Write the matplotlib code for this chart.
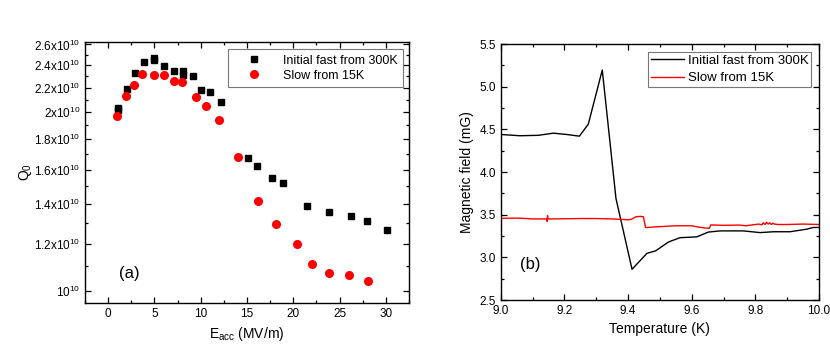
import numpy as np
import matplotlib
matplotlib.use('Agg')
import matplotlib.pyplot as plt
from matplotlib.ticker import FixedLocator, MultipleLocator, NullFormatter

plt.rcParams['font.family'] = ['Liberation Sans', 'DejaVu Sans']
plt.rcParams['mathtext.fontset'] = 'custom'
plt.rcParams['mathtext.rm'] = 'Liberation Sans'
plt.rcParams['mathtext.it'] = 'Liberation Sans'

# (a) Q0 vs Eacc
e_fast = [1.1, 1.1, 2.0, 2.9, 3.9, 5.0, 5.0, 6.0, 7.1, 8.1, 8.1, 9.2, 10.0, 11.0, 12.2,
          15.1, 16.1, 17.7, 18.9, 21.5, 23.9, 26.2, 28.0, 30.1]
q_fast = [2.03, 2.015, 2.19, 2.33, 2.43, 2.465, 2.45, 2.39, 2.35, 2.35, 2.31, 2.30, 2.18, 2.16, 2.08,
          1.677, 1.62, 1.55, 1.52, 1.387, 1.357, 1.337, 1.31, 1.267]
e_slow = [1.0, 1.9, 2.8, 3.7, 5.0, 6.0, 7.1, 8.0, 9.5, 10.6, 12.0,
          14.0, 16.2, 18.1, 20.4, 22.0, 23.9, 26.0, 28.1]
q_slow = [1.97, 2.13, 2.22, 2.32, 2.31, 2.31, 2.257, 2.25, 2.12, 2.05, 1.94,
          1.68, 1.416, 1.297, 1.197, 1.11, 1.071, 1.065, 1.038]
q_ticks = [1.0, 1.2, 1.4, 1.6, 1.8, 2.0, 2.2, 2.4, 2.6]
q_labels = [r'10$^{10}$', r'1.2x10$^{10}$', r'1.4x10$^{10}$', r'1.6x10$^{10}$', r'1.8x10$^{10}$',
            r'2x10$^{10}$', r'2.2x10$^{10}$', r'2.4x10$^{10}$', r'2.6x10$^{10}$']

# (b) magnetic field vs temperature
t_fast = [9.0, 9.06, 9.118, 9.165, 9.207, 9.247, 9.275, 9.319, 9.362, 9.4125, 9.459, 9.487,
          9.527, 9.563, 9.616, 9.652, 9.689, 9.762, 9.815, 9.857, 9.909, 9.961, 9.982, 10.0]
b_fast = [4.44, 4.425, 4.43, 4.455, 4.44, 4.42, 4.56, 5.195, 3.69, 2.86, 3.046, 3.077,
          3.18, 3.23, 3.24, 3.296, 3.31, 3.31, 3.29, 3.30, 3.30, 3.33, 3.35, 3.35]
t_slow = [9.0, 9.05, 9.08, 9.1, 9.145, 9.146, 9.147, 9.148, 9.2, 9.25, 9.3, 9.35, 9.4, 9.41,
          9.425, 9.44, 9.448, 9.455, 9.46, 9.5, 9.55, 9.6, 9.62, 9.64, 9.655, 9.66, 9.7,
          9.75, 9.77, 9.79, 9.81, 9.82, 9.825, 9.83, 9.835, 9.84, 9.845, 9.85, 9.855, 9.86,
          9.87, 9.9, 9.95, 10.0]
b_slow = [3.457, 3.46, 3.455, 3.45, 3.45, 3.42, 3.49, 3.45, 3.452, 3.455, 3.455, 3.45, 3.44, 3.445,
          3.476, 3.48, 3.475, 3.35, 3.35, 3.36, 3.37, 3.37, 3.355, 3.345, 3.34, 3.38, 3.375,
          3.378, 3.37, 3.38, 3.39, 3.38, 3.405, 3.385, 3.41, 3.39, 3.405, 3.385, 3.40, 3.39,
          3.385, 3.385, 3.39, 3.385]

fig = plt.figure(figsize=(8.3, 3.64), dpi=100)
ax1 = fig.add_axes([0.1024, 0.1676, 0.3904, 0.717])
ax2 = fig.add_axes([0.6033, 0.1758, 0.3835, 0.7033])

for ax in (ax1, ax2):
    for s in ax.spines.values():
        s.set_linewidth(1.0)
    ax.tick_params(which='both', direction='in', top=True, right=True, labelsize=8.5)
    ax.tick_params(which='major', length=4, width=0.9)
    ax.tick_params(which='minor', length=2, width=0.9)

# panel (a)
ax1.set_yscale('log')
ax1.plot(e_fast, np.array(q_fast) * 1e10, 's', color='black', ms=5, label='Initial fast from 300K')
ax1.plot(e_slow, np.array(q_slow) * 1e10, 'o', color='red', ms=5.5, mec='red', label='Slow from 15K')
ax1.set_xlim(-2.5, 32.5)
ax1.set_ylim(0.954e10, 2.625e10)
ax1.yaxis.set_major_locator(FixedLocator([v * 1e10 for v in q_ticks]))
ax1.yaxis.set_minor_locator(FixedLocator([v * 1e10 for v in np.arange(1.1, 2.6, 0.2)]))
ax1.set_yticklabels(q_labels)
ax1.yaxis.set_minor_formatter(NullFormatter())
ax1.xaxis.set_major_locator(MultipleLocator(5))
ax1.xaxis.set_minor_locator(MultipleLocator(2.5))
ax1.set_xlabel(r'E$_{\mathrm{acc}}$ (MV/m)', fontsize=10)
ax1.set_ylabel(r'Q$_0$', fontsize=10, labelpad=0)
ax1.text(0.105, 0.095, '(a)', transform=ax1.transAxes, fontsize=12)
leg1 = ax1.legend(loc='upper right', bbox_to_anchor=(0.981, 0.973), borderaxespad=0,
                  fontsize=9, fancybox=False, edgecolor='#555555', handletextpad=0.6,
                  borderpad=0.45, labelspacing=0.25, handlelength=3.3)
leg1.get_frame().set_linewidth(0.8)

# panel (b)
ax2.plot(t_fast, b_fast, '-', color='black', lw=1.0, label='Initial fast from 300K')
ax2.plot(t_slow, b_slow, '-', color='red', lw=1.0, label='Slow from 15K')
ax2.set_xlim(9.0, 10.0)
ax2.set_ylim(2.5, 5.5)
ax2.xaxis.set_major_locator(MultipleLocator(0.2))
ax2.xaxis.set_minor_locator(MultipleLocator(0.1))
ax2.yaxis.set_major_locator(MultipleLocator(0.5))
ax2.yaxis.set_minor_locator(MultipleLocator(0.25))
ax2.xaxis.set_major_formatter(plt.FormatStrFormatter('%.1f'))
ax2.yaxis.set_major_formatter(plt.FormatStrFormatter('%.1f'))
ax2.set_xlabel('Temperature (K)', fontsize=10)
ax2.set_ylabel('Magnetic field (mG)', fontsize=10)
ax2.text(0.06, 0.12, '(b)', transform=ax2.transAxes, fontsize=12)
leg2 = ax2.legend(loc='upper right', bbox_to_anchor=(0.975, 0.969), borderaxespad=0,
                  fontsize=9.5, fancybox=False, edgecolor='#555555', handletextpad=0.3,
                  borderpad=0.2, labelspacing=0.4, handlelength=2.5)
leg2.get_frame().set_linewidth(0.8)

fig.savefig('out.png', dpi=100)
